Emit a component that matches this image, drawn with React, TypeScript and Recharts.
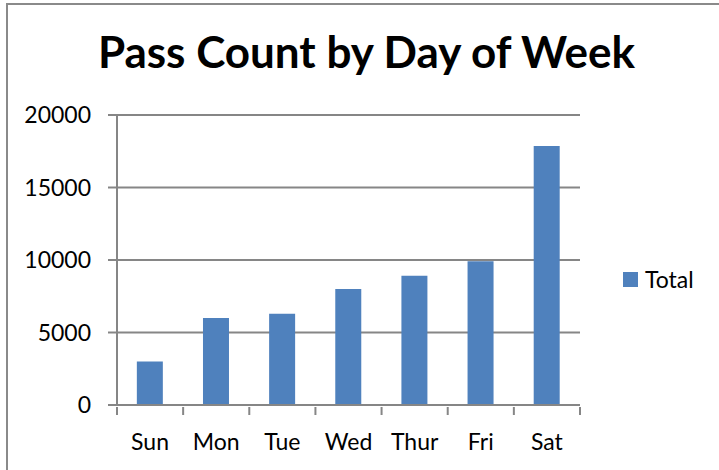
import { BarChart, Bar, XAxis, YAxis, CartesianGrid, Legend } from 'recharts';

const days = ['Sun', 'Mon', 'Tue', 'Wed', 'Thur', 'Fri', 'Sat'];
const totals = [3000, 6000, 6300, 8000, 8920, 9920, 17860];
const yTicks = [0, 5000, 10000, 15000, 20000];

const data = days.map((day, i) => ({ day, Total: totals[i] }));

const W = 719;
const H = 470;
const margin = { top: 115, right: 139, left: 0, bottom: 35 };
const yAxisWidth = 117;
const bandHalf = (W - margin.left - margin.right - yAxisWidth) / days.length / 2;
const font = 'Lato, "Open Sans", sans-serif';

// Excel-style category axis: label centred, tick marks on the category boundaries
const DayTick = (props: any) => {
  const { x, y, payload, index } = props;
  return (
    <g>
      <line x1={x + bandHalf} y1={y - 6} x2={x + bandHalf} y2={y + 2} stroke="#868686" strokeWidth={2} />
      {index === 0 && (
        <line x1={x - bandHalf} y1={y - 6} x2={x - bandHalf} y2={y + 2} stroke="#868686" strokeWidth={2} />
      )}
      <text x={x} y={y + 37} textAnchor="middle" fontFamily={font} fontSize={23} fill="#000">
        {payload.value}
      </text>
    </g>
  );
};

const LegendBox = () => (
  <div style={{ display: 'flex', alignItems: 'center', fontFamily: font, fontSize: 23, color: '#000' }}>
    <span style={{ width: 15, height: 15, background: '#4f81bd', marginRight: 7, display: 'inline-block' }} />
    Total
  </div>
);

const App = () => {
  return (
    <div style={{ position: 'absolute', left: 0, top: 0, width: W, height: H, background: '#fff' }}>
      <div
        style={{
          position: 'absolute',
          left: 6,
          top: 3,
          right: 0,
          bottom: 0,
          borderLeft: '2px solid #8a8a8a',
          borderTop: '2px solid #8a8a8a',
        }}
      />
      <div
        style={{
          position: 'absolute',
          left: 0,
          width: W,
          top: 25,
          textAlign: 'center',
          fontFamily: font,
          fontWeight: 700,
          fontSize: 44,
          color: '#000',
          paddingLeft: 14,
          boxSizing: 'border-box',
        }}
      >
        Pass Count by Day of Week
      </div>
      <BarChart width={W} height={H} data={data} margin={margin} barCategoryGap="30%" style={{ position: 'absolute', left: 0, top: 0 }}>
        <CartesianGrid vertical={false} stroke="#868686" strokeWidth={2} />
        <XAxis
          dataKey="day"
          stroke="#868686"
          strokeWidth={2}
          tickLine={false}
          tick={<DayTick />}
          interval={0}
        />
        <YAxis
          width={yAxisWidth}
          domain={[0, 20000]}
          ticks={yTicks}
          stroke="#868686"
          strokeWidth={2}
          tickSize={9}
          tickMargin={17}
          tick={{ fontFamily: font, fontSize: 23, fill: '#000' }}
        />
        <Legend
          content={<LegendBox />}
          layout="vertical"
          align="center"
          verticalAlign="middle"
          wrapperStyle={{ left: 623, top: 265, width: 'auto' }}
        />
        <Bar dataKey="Total" fill="#4f81bd" isAnimationActive={false} />
      </BarChart>
    </div>
  );
};

export default App;
